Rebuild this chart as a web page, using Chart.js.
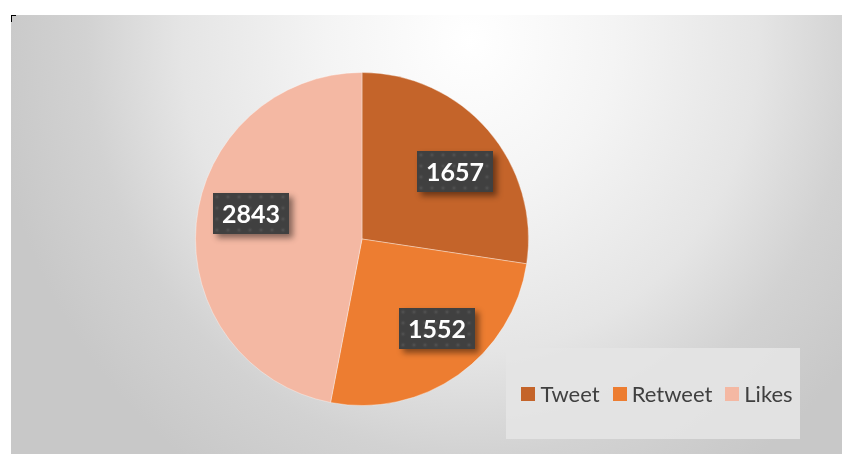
<!DOCTYPE html>
<html>
<head>
<meta charset="utf-8">
<script src="https://cdn.jsdelivr.net/npm/chart.js@4/dist/chart.umd.min.js"></script>
<style>
  html, body { margin: 0; padding: 0; background: #ffffff; }
  #wrap { position: relative; width: 842px; height: 454px; }
</style>
</head>
<body>
<div id="wrap"><canvas id="c" width="842" height="454"></canvas></div>
<script>
const categories = ["Tweet", "Retweet", "Likes"];
const values = [1657, 1552, 2843];
const colors = ["#C4642A", "#ED7D31", "#F4B8A3"];

const FONT = "Lato, 'Open Sans', sans-serif";

const backgroundPlugin = {
  id: 'bg',
  beforeDraw(chart) {
    const ctx = chart.ctx;
    ctx.save();
    const x0 = 11, y0 = 15, w = 842 - x0, h = 454 - y0;
    const cx = 470, cy = 40, a = 480, b = 520;
    ctx.beginPath();
    ctx.rect(x0, y0, w, h);
    ctx.clip();
    ctx.translate(cx, cy);
    ctx.scale(a / b, 1);
    const g = ctx.createRadialGradient(0, 0, 0, 0, 0, b);
    g.addColorStop(0, '#ffffff');
    g.addColorStop(0.3, '#f4f4f4');
    g.addColorStop(0.6, '#e5e5e5');
    g.addColorStop(0.8, '#d2d2d2');
    g.addColorStop(1, '#c8c8c8');
    ctx.fillStyle = g;
    ctx.fillRect(-2000, -2000, 4000, 4000);
    ctx.restore();
    // corner mark
    ctx.save();
    ctx.fillStyle = '#000000';
    ctx.fillRect(11, 15, 5, 1);
    ctx.fillRect(11, 15, 1, 7);
    ctx.restore();
  }
};

function drawTexturedBox(ctx, x, y, w, h) {
  ctx.save();
  ctx.shadowColor = 'rgba(0,0,0,0.45)';
  ctx.shadowBlur = 6;
  ctx.shadowOffsetX = 4;
  ctx.shadowOffsetY = 4;
  ctx.fillStyle = '#404040';
  ctx.fillRect(x, y, w, h);
  ctx.restore();
  ctx.save();
  ctx.beginPath();
  ctx.rect(x, y, w, h);
  ctx.clip();
  const step = 11;
  for (let yy = y + 4; yy < y + h + step; yy += step) {
    for (let xx = x + 4; xx < x + w + step; xx += step) {
      const g = ctx.createRadialGradient(xx, yy, 0, xx, yy, 3.5);
      g.addColorStop(0, 'rgba(96,96,96,0.7)');
      g.addColorStop(1, 'rgba(64,64,64,0)');
      ctx.fillStyle = g;
      ctx.fillRect(xx - 4, yy - 4, 8, 8);
    }
  }
  ctx.restore();
}

const labelPlugin = {
  id: 'labels',
  afterDatasetsDraw(chart, args, opts) {
    const ctx = chart.ctx;
    const meta = chart.getDatasetMeta(0);
    const nudges = opts.nudges || [];
    meta.data.forEach((arc, i) => {
      const p = arc.getProps(['x', 'y', 'startAngle', 'endAngle', 'outerRadius'], true);
      const mid = (p.startAngle + p.endAngle) / 2;
      const r = p.outerRadius * 0.69;
      const n = nudges[i] || [0, 0];
      const lx = p.x + Math.cos(mid) * r + n[0];
      const ly = p.y + Math.sin(mid) * r + n[1];
      const text = String(chart.data.datasets[0].data[i]);
      ctx.save();
      ctx.font = "bold 25px " + FONT;
      const tw = ctx.measureText(text).width;
      const bw = Math.round(tw + 18), bh = 41;
      const bx = Math.round(lx - bw / 2), by = Math.round(ly - bh / 2);
      drawTexturedBox(ctx, bx, by, bw, bh);
      ctx.fillStyle = '#ffffff';
      ctx.textAlign = 'center';
      ctx.textBaseline = 'middle';
      ctx.fillText(text, bx + bw / 2, by + bh / 2 + 1);
      ctx.restore();
    });
  }
};

const legendPlugin = {
  id: 'customLegend',
  afterDraw(chart) {
    const ctx = chart.ctx;
    const bx = 506, by = 348, bw = 294, bh = 91;
    ctx.save();
    ctx.fillStyle = 'rgba(228,228,228,0.9)';
    ctx.fillRect(bx, by, bw, bh);
    ctx.font = "22px " + FONT;
    const sq = 14, gapSq = 5, gapItem = 13;
    const labels = chart.data.labels;
    const cols = chart.data.datasets[0].backgroundColor;
    let total = 0;
    const widths = labels.map(l => ctx.measureText(l).width);
    widths.forEach((w, i) => { total += sq + gapSq + w + (i < labels.length - 1 ? gapItem : 0); });
    let x = bx + (bw - total) / 2 + 4;
    const cy = 394;
    labels.forEach((l, i) => {
      ctx.fillStyle = cols[i];
      ctx.fillRect(Math.round(x), cy - sq / 2, sq, sq);
      x += sq + gapSq;
      ctx.fillStyle = '#404040';
      ctx.textBaseline = 'middle';
      ctx.textAlign = 'left';
      ctx.fillText(l, x, cy + 1);
      x += widths[i] + gapItem;
    });
    ctx.restore();
  }
};

new Chart(document.getElementById('c'), {
  type: 'pie',
  data: {
    labels: categories,
    datasets: [{
      data: values,
      backgroundColor: colors,
      borderColor: 'rgba(255,255,255,0.35)',
      borderWidth: 1
    }]
  },
  options: {
    responsive: false,
    animation: false,
    devicePixelRatio: 1,
    layout: { padding: { left: 195, right: 313, top: 72, bottom: 48 } },
    plugins: {
      legend: { display: false },
      tooltip: { enabled: false },
      labels: { nudges: [[6, 7], [9, -4], [3, -15]] }
    }
  },
  plugins: [backgroundPlugin, labelPlugin, legendPlugin]
});
</script>
</body>
</html>
